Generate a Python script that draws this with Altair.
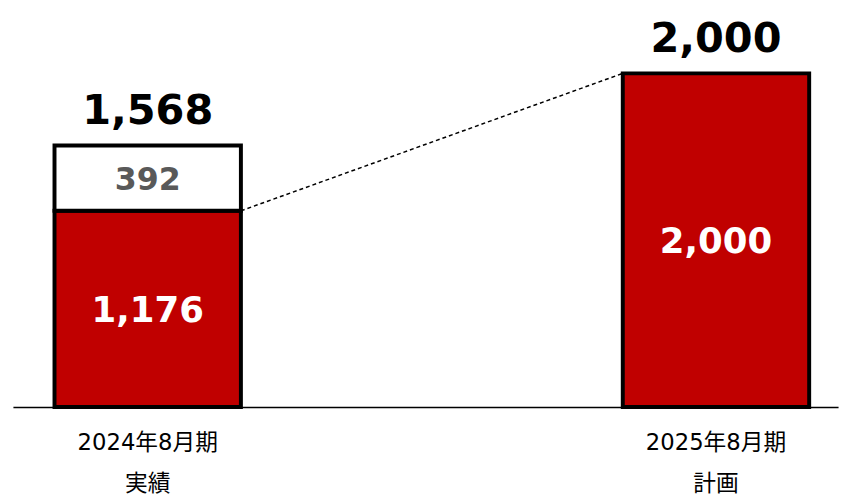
import altair as alt
import pandas as pd

# ---- data ----
periods = ["2024年8月期|実績", "2025年8月期|計画"]
seg_period = [periods[0], periods[0], periods[1]]
seg_kind = ["main", "extra", "main"]
seg_value = [1176, 392, 2000]
seg_order = [0, 1, 0]
totals = [1568, 2000]

seg = pd.DataFrame({"period": seg_period, "kind": seg_kind,
                    "value": seg_value, "order": seg_order})
seg = seg.sort_values(["period", "order"]).reset_index(drop=True)
seg["top"] = seg.groupby("period")["value"].cumsum()
seg["base"] = seg["top"] - seg["value"]
seg["mid"] = (seg["base"] + seg["top"]) / 2
seg["label"] = seg["value"].map(lambda v: f"{v:,}")

tot = pd.DataFrame({"period": periods, "total": totals})
tot["label"] = tot["total"].map(lambda v: f"{v:,}")

# connector: top-right of the 2024 red part -> top-left of the 2025 bar
link = pd.DataFrame({"from": [periods[0]], "to": [periods[1]],
                     "y1": [seg_value[0]], "y2": [totals[1]]})

FONT = "DejaVu Sans"
xscale = alt.Scale(domain=periods, paddingInner=0.672, paddingOuter=0.062, align=0.59)
yscale = alt.Scale(domain=[0, 2343], nice=False, zero=True)

xaxis = alt.Axis(title=None, labelExpr="split(datum.value, '|')", labelAngle=0,
                 ticks=False, domainColor="black", domainWidth=1.5,
                 labelFont="DejaVu Sans, Noto Sans CJK JP", labelFontSize=23, labelColor="black",
                 labelLineHeight=42, labelBaseline="top", labelPadding=25)

line = alt.Chart(link).mark_rule(color="black", strokeWidth=1.5, strokeDash=[4, 3]).encode(
    x=alt.X("from:N", scale=xscale, axis=xaxis, bandPosition=1),
    x2=alt.X2("to:N", bandPosition=0),
    y=alt.Y("y1:Q", scale=yscale, axis=None),
    y2="y2:Q",
)

bars = alt.Chart(seg).mark_bar(stroke="black", strokeWidth=4).encode(
    x=alt.X("period:N", scale=xscale, axis=xaxis),
    y=alt.Y("base:Q", scale=yscale, axis=None),
    y2="top:Q",
    fill=alt.Fill("kind:N", scale=alt.Scale(domain=["main", "extra"], range=["#C00000", "#FFFFFF"]), legend=None),
)

inner = alt.Chart(seg).mark_text(font=FONT, fontWeight="bold", baseline="middle", dy=2).encode(
    x=alt.X("period:N", scale=xscale, axis=xaxis),
    y=alt.Y("mid:Q", scale=yscale, axis=None),
    text="label:N",
    color=alt.Color("kind:N", scale=alt.Scale(domain=["main", "extra"], range=["#FFFFFF", "#595959"]), legend=None),
    size=alt.Size("kind:N", scale=alt.Scale(domain=["main", "extra"], range=[36, 32]), legend=None),
)

top = alt.Chart(tot).mark_text(font=FONT, fontWeight="bold", fontSize=42, baseline="bottom", dy=-13, color="black").encode(
    x=alt.X("period:N", scale=xscale, axis=xaxis),
    y=alt.Y("total:Q", scale=yscale, axis=None),
    text="label:N",
)

chart = alt.layer(line, bars, inner, top).properties(
    width=836, height=396,
).configure_view(stroke=None)

chart.save("out.html", embed_options={"renderer": "svg", "actions": False})
